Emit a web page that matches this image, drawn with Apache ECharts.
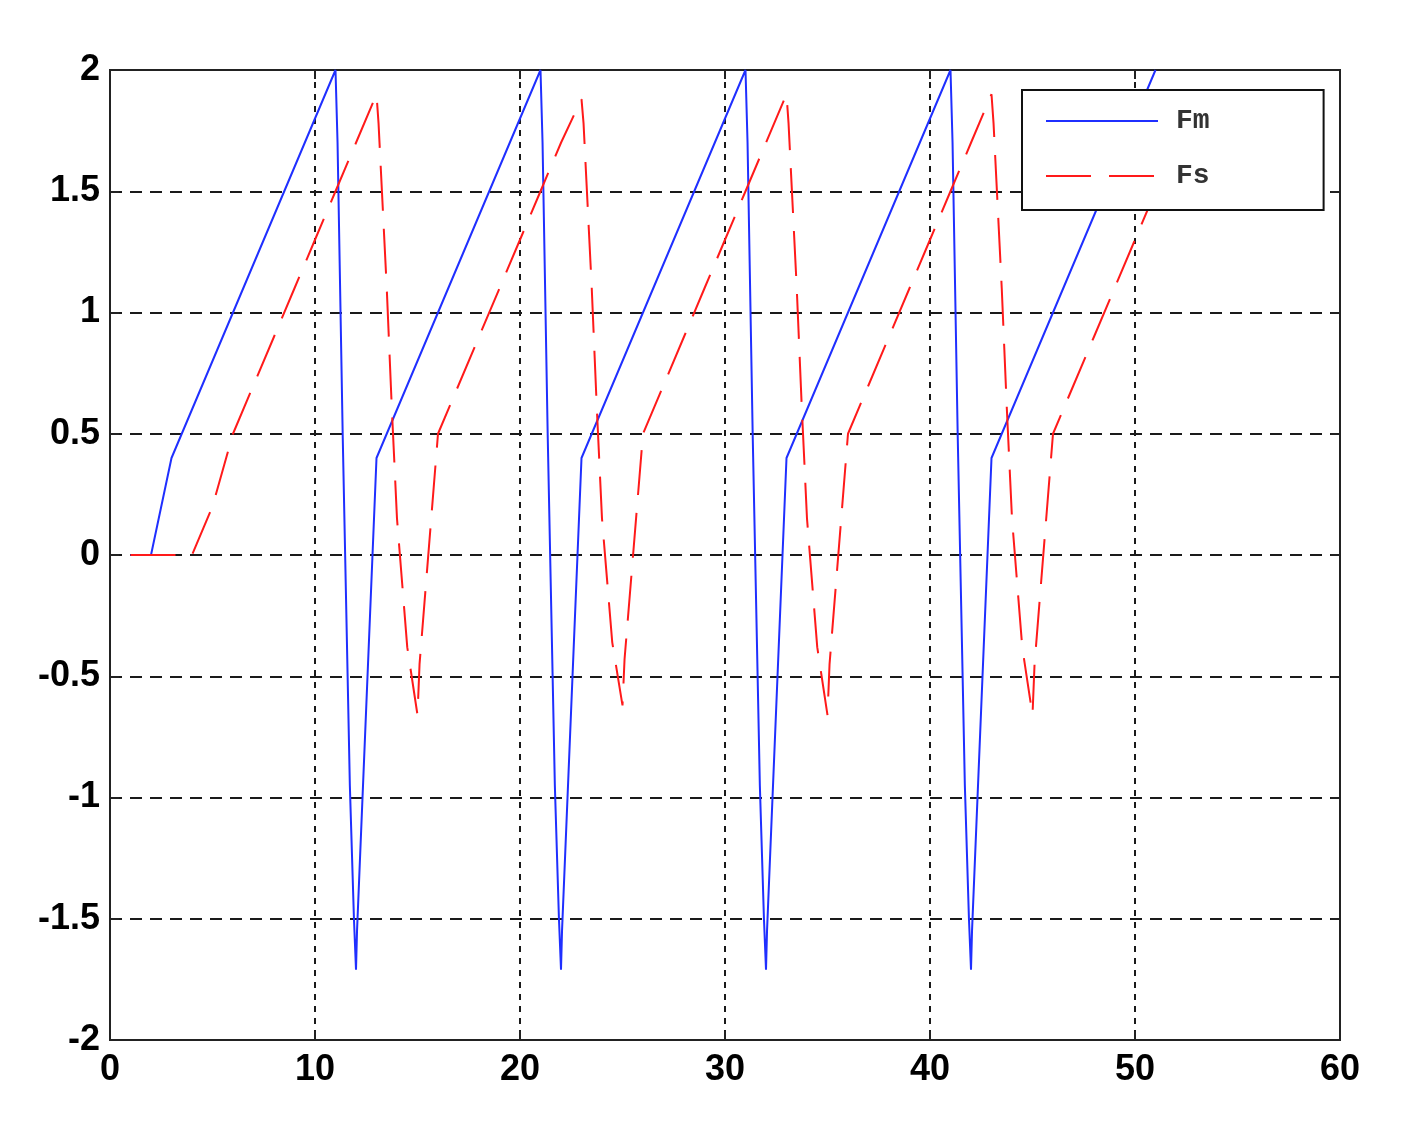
<!DOCTYPE html>
<html>
<head>
<meta charset="utf-8">
<script src="https://cdn.jsdelivr.net/npm/echarts@6/dist/echarts.min.js"></script>
<style>
html,body{margin:0;padding:0;background:#fff;}
#chart{width:1401px;height:1123px;}
</style>
</head>
<body>
<div id="chart"></div>
<script>
// Fm (blue, solid)
var fmX = [1,2,3,4,5,6,7,8,9,10,
  11,11.1,11.35,11.7,11.9,12,12.05,13,14,15,16,17,18,19,20,
  21,21.1,21.35,21.7,21.9,22,22.05,23,24,25,26,27,28,29,30,
  31,31.1,31.35,31.7,31.9,32,32.05,33,34,35,36,37,38,39,40,
  41,41.1,41.35,41.7,41.9,42,42.05,43,44,45,46,47,48,49,50,51];
var fmY = [0,0,0.4,0.6,0.8,1.0,1.2,1.4,1.6,1.8,
  2,1.7,0.5,-0.95,-1.5,-1.71,-1.55,0.4,0.6,0.8,1.0,1.2,1.4,1.6,1.8,
  2,1.7,0.5,-0.95,-1.5,-1.71,-1.55,0.4,0.6,0.8,1.0,1.2,1.4,1.6,1.8,
  2,1.7,0.5,-0.95,-1.5,-1.71,-1.55,0.4,0.6,0.8,1.0,1.2,1.4,1.6,1.8,
  2,1.7,0.5,-0.95,-1.5,-1.71,-1.55,0.4,0.6,0.8,1.0,1.2,1.4,1.6,1.8,2];
// Fs (red, dashed)
var fsX = [1,2,3,4,5,6,7,8,9,10,11,12,
  13,13.1,13.5,13.75,14,14.5,15,15.1,16,17,18,19,20,21,22,
  23,23.1,23.5,23.75,24,24.5,25,25.1,26,27,28,29,30,31,32,
  33,33.1,33.5,33.75,34,34.5,35,35.1,36,37,38,39,40,41,42,
  43,43.1,43.5,43.75,44,44.5,45,45.1,46,47,48,49,50,51];
var fsY = [0,0,0,0,0.2,0.5,0.7,0.9,1.1,1.3,1.5,1.7,
  1.9,1.78,1.1,0.6,0.15,-0.38,-0.66,-0.45,0.5,0.7,0.9,1.1,1.3,1.5,1.7,
  1.88,1.78,1.1,0.6,0.15,-0.36,-0.62,-0.43,0.5,0.7,0.9,1.1,1.3,1.5,1.7,
  1.9,1.78,1.1,0.6,0.15,-0.38,-0.66,-0.45,0.5,0.7,0.9,1.1,1.3,1.5,1.7,
  1.9,1.78,1.1,0.6,0.15,-0.38,-0.66,-0.45,0.5,0.7,0.9,1.1,1.3,1.5];
var seriesNames = ['Fm','Fs'];
var xTicks = {min:0, max:60, interval:10};
var yTicks = {min:-2, max:2, interval:0.5};

function zip(a,b){ return a.map(function(v,i){ return [v,b[i]]; }); }

var labelFont = {color:'#000', fontFamily:'"Liberation Sans", Arial, sans-serif', fontWeight:'bold', fontSize:36};
var gridColor = '#1a1a1a';
var blue = '#1f2fff', red = '#ff1a1a';
var redDash = [45,18];

var chart = echarts.init(document.getElementById('chart'), null, {renderer:'canvas'});
chart.setOption({
  backgroundColor:'#fff',
  animation:false,
  grid:{left:110, right:61, top:70, bottom:83, show:true, borderColor:'#222', borderWidth:2, backgroundColor:'transparent'},
  legend:{
    orient:'vertical',
    left:1022, top:90,
    backgroundColor:'#fff',
    borderColor:'#111', borderWidth:2, borderRadius:0,
    padding:[17,114,20,23],
    itemWidth:112, itemHeight:14, itemGap:27,
    itemStyle:{opacity:0},
    data:seriesNames,
    textStyle:{color:'#333', fontFamily:'"Liberation Mono", "Courier New", monospace', fontWeight:'bold', fontSize:28, padding:[0,0,0,13]}
  },
  xAxis:[{
    type:'value', min:xTicks.min, max:xTicks.max, interval:xTicks.interval,
    axisLine:{show:true, onZero:false, lineStyle:{color:'#222', width:2}},
    axisTick:{show:true, inside:true, length:9, lineStyle:{color:'#222', width:2}},
    axisLabel:Object.assign({margin:12}, labelFont),
    splitLine:{show:true, lineStyle:{color:gridColor, width:2, type:[6,6]}}
  },{
    type:'value', position:'top', min:xTicks.min, max:xTicks.max, interval:xTicks.interval,
    axisLine:{show:true, onZero:false, lineStyle:{color:'#222', width:2}},
    axisTick:{show:true, inside:true, length:9, lineStyle:{color:'#222', width:2}},
    axisLabel:{show:false}, splitLine:{show:false}
  }],
  yAxis:[{
    type:'value', min:yTicks.min, max:yTicks.max, interval:yTicks.interval,
    axisLine:{show:true, onZero:false, lineStyle:{color:'#222', width:2}},
    axisTick:{show:true, inside:true, length:9, lineStyle:{color:'#222', width:2}},
    axisLabel:Object.assign({margin:10}, labelFont),
    splitLine:{show:true, lineStyle:{color:gridColor, width:2, type:[12,8]}}
  },{
    type:'value', position:'right', min:yTicks.min, max:yTicks.max, interval:yTicks.interval,
    axisLine:{show:true, onZero:false, lineStyle:{color:'#222', width:2}},
    axisTick:{show:true, inside:true, length:9, lineStyle:{color:'#222', width:2}},
    axisLabel:{show:false}, splitLine:{show:false}
  }],
  series:[{
    name:seriesNames[0], type:'line', data:zip(fmX,fmY), showSymbol:false, symbol:'none',
    lineStyle:{color:blue, width:2}, itemStyle:{color:blue}, z:3
  },{
    name:seriesNames[1], type:'line', data:zip(fsX,fsY), showSymbol:false, symbol:'none',
    lineStyle:{color:red, width:2, type:redDash}, itemStyle:{color:red}, z:3
  }]
});
</script>
</body>
</html>
